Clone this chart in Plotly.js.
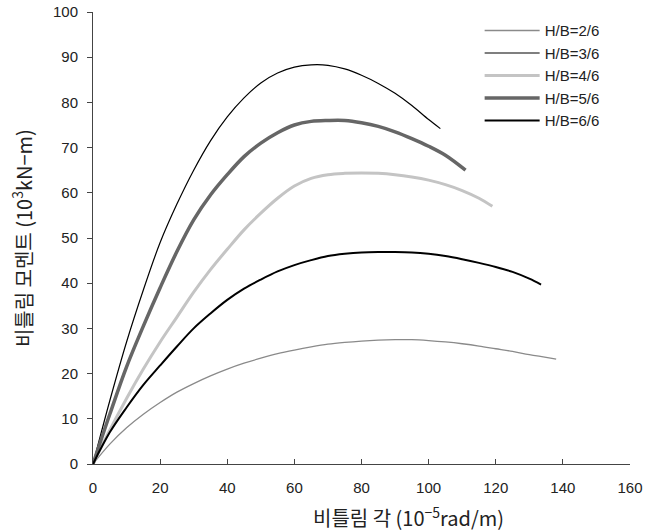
<!DOCTYPE html>
<html>
<head>
<meta charset="utf-8">
<script src="https://cdn.plot.ly/plotly-3.0.1.min.js"></script>
<style>html,body{margin:0;padding:0;background:#fff;}#chart{width:656px;height:531px;}</style>
</head>
<body>
<div id="chart"></div>
<script>
// H/B = 2/6
const x26 = [0, 5, 10, 15, 20, 25, 30, 35, 40, 45, 50, 55, 60, 65, 70, 75, 80, 85, 90, 95, 100, 105, 110, 115, 120, 125, 130, 135, 138];
const y26 = [0, 4.4, 8, 11, 13.6, 15.9, 17.8, 19.5, 21, 22.3, 23.4, 24.4, 25.2, 25.9, 26.5, 26.9, 27.2, 27.4, 27.5, 27.5, 27.3, 27, 26.6, 26.1, 25.5, 24.9, 24.2, 23.6, 23.2];
// H/B = 3/6
const x36 = [0, 5, 10, 15, 20, 25, 30, 35, 40, 45, 50, 55, 60, 65, 70, 75, 80, 85, 90, 95, 100, 103.5];
const y36 = [0, 14, 27, 38.5, 49, 57.5, 65, 71.5, 76.8, 81, 84.3, 86.5, 87.8, 88.3, 88.2, 87.4, 86, 84.2, 82, 79.3, 76.2, 74.2];
// H/B = 4/6
const x46 = [0, 5, 10, 15, 20, 25, 30, 35, 40, 45, 50, 55, 60, 65, 70, 75, 80, 85, 90, 95, 100, 105, 110, 115, 119];
const y46 = [0, 7.5, 14.5, 21, 27, 32.5, 38, 43, 47.5, 51.8, 55.5, 58.8, 61.5, 63.2, 64, 64.3, 64.4, 64.3, 64, 63.5, 62.8, 61.8, 60.5, 58.8, 57];
// H/B = 5/6
const x56 = [0, 5, 10, 15, 20, 25, 30, 35, 40, 45, 50, 55, 60, 65, 70, 75, 80, 85, 90, 95, 100, 105, 111];
const y56 = [0, 11, 21.5, 30.5, 39, 47, 54, 59.5, 64, 68, 71, 73.3, 75, 75.8, 76, 76, 75.5, 74.7, 73.5, 72, 70.3, 68.3, 65];
// H/B = 6/6
const x66 = [0, 5, 10, 15, 20, 25, 30, 35, 40, 45, 50, 55, 60, 65, 70, 75, 80, 85, 90, 95, 100, 105, 110, 115, 120, 125, 130, 133.5];
const y66 = [0, 7, 12.5, 17.5, 21.8, 26, 30, 33.3, 36.3, 38.8, 40.8, 42.6, 44, 45.1, 46, 46.5, 46.8, 46.9, 46.9, 46.8, 46.5, 46, 45.3, 44.5, 43.6, 42.5, 41, 39.7];

const names = ['H/B=2/6', 'H/B=3/6', 'H/B=4/6', 'H/B=5/6', 'H/B=6/6'];
const xTicks = [0, 20, 40, 60, 80, 100, 120, 140, 160];
const yTicks = [0, 10, 20, 30, 40, 50, 60, 70, 80, 90, 100];

const styles = [
  {color: '#8a8a8a', width: 1.3},
  {color: '#000000', width: 1.2},
  {color: '#c4c4c4', width: 3},
  {color: '#666666', width: 3.5},
  {color: '#000000', width: 2}
];
const xs = [x26, x36, x46, x56, x66];
const ys = [y26, y36, y46, y56, y66];

const traces = names.map((n, i) => ({
  x: xs[i], y: ys[i], name: n, type: 'scatter', mode: 'lines',
  line: {color: styles[i].color, width: styles[i].width, shape: 'spline', smoothing: 1}
}));

const numFont = {family: '"Liberation Sans Narrow", "Liberation Sans", Arial, sans-serif', size: 15, color: '#222'};
const korFont = {family: '"Noto Sans CJK KR", "Liberation Sans", sans-serif', size: 20, color: '#222'};

const layout = {
  width: 656, height: 531,
  margin: {l: 93, r: 26, t: 12, b: 67},
  paper_bgcolor: '#fff', plot_bgcolor: '#fff',
  showlegend: true,
  legend: {
    x: 0.72, y: 0.995, xanchor: 'left', yanchor: 'top',
    font: {family: '"Liberation Sans", Arial, sans-serif', size: 15, color: '#222'},
    bgcolor: 'rgba(0,0,0,0)', borderwidth: 0, itemwidth: 55, tracegroupgap: 0
  },
  xaxis: {
    range: [0, 160], tickvals: xTicks, ticktext: xTicks.map(String),
    showgrid: false, zeroline: false, showline: true, linecolor: '#444', linewidth: 1,
    ticks: 'inside', ticklen: 5, tickcolor: '#444', tickfont: numFont, ticklabelstandoff: 10,
    fixedrange: true
  },
  yaxis: {
    range: [0, 100], tickvals: yTicks, ticktext: yTicks.map(String),
    showgrid: false, zeroline: false, showline: true, linecolor: '#444', linewidth: 1,
    ticks: 'outside', ticklen: 5, tickcolor: '#444', tickfont: numFont, ticklabelstandoff: 6,
    fixedrange: true
  },
  annotations: [
    {text: '비틀림 각 (10<sup>−5</sup>rad/m)', xref: 'paper', yref: 'paper', x: 0.588, y: -0.118,
     xanchor: 'center', yanchor: 'middle', showarrow: false, font: korFont},
    {text: '비틀림 모멘트 (10<sup>3</sup>kN−m)', xref: 'paper', yref: 'paper', x: -0.132, y: 0.5,
     xanchor: 'center', yanchor: 'middle', textangle: -90, showarrow: false, font: korFont}
  ]
};

Plotly.newPlot('chart', traces, layout, {staticPlot: true, displayModeBar: false});
</script>
</body>
</html>
